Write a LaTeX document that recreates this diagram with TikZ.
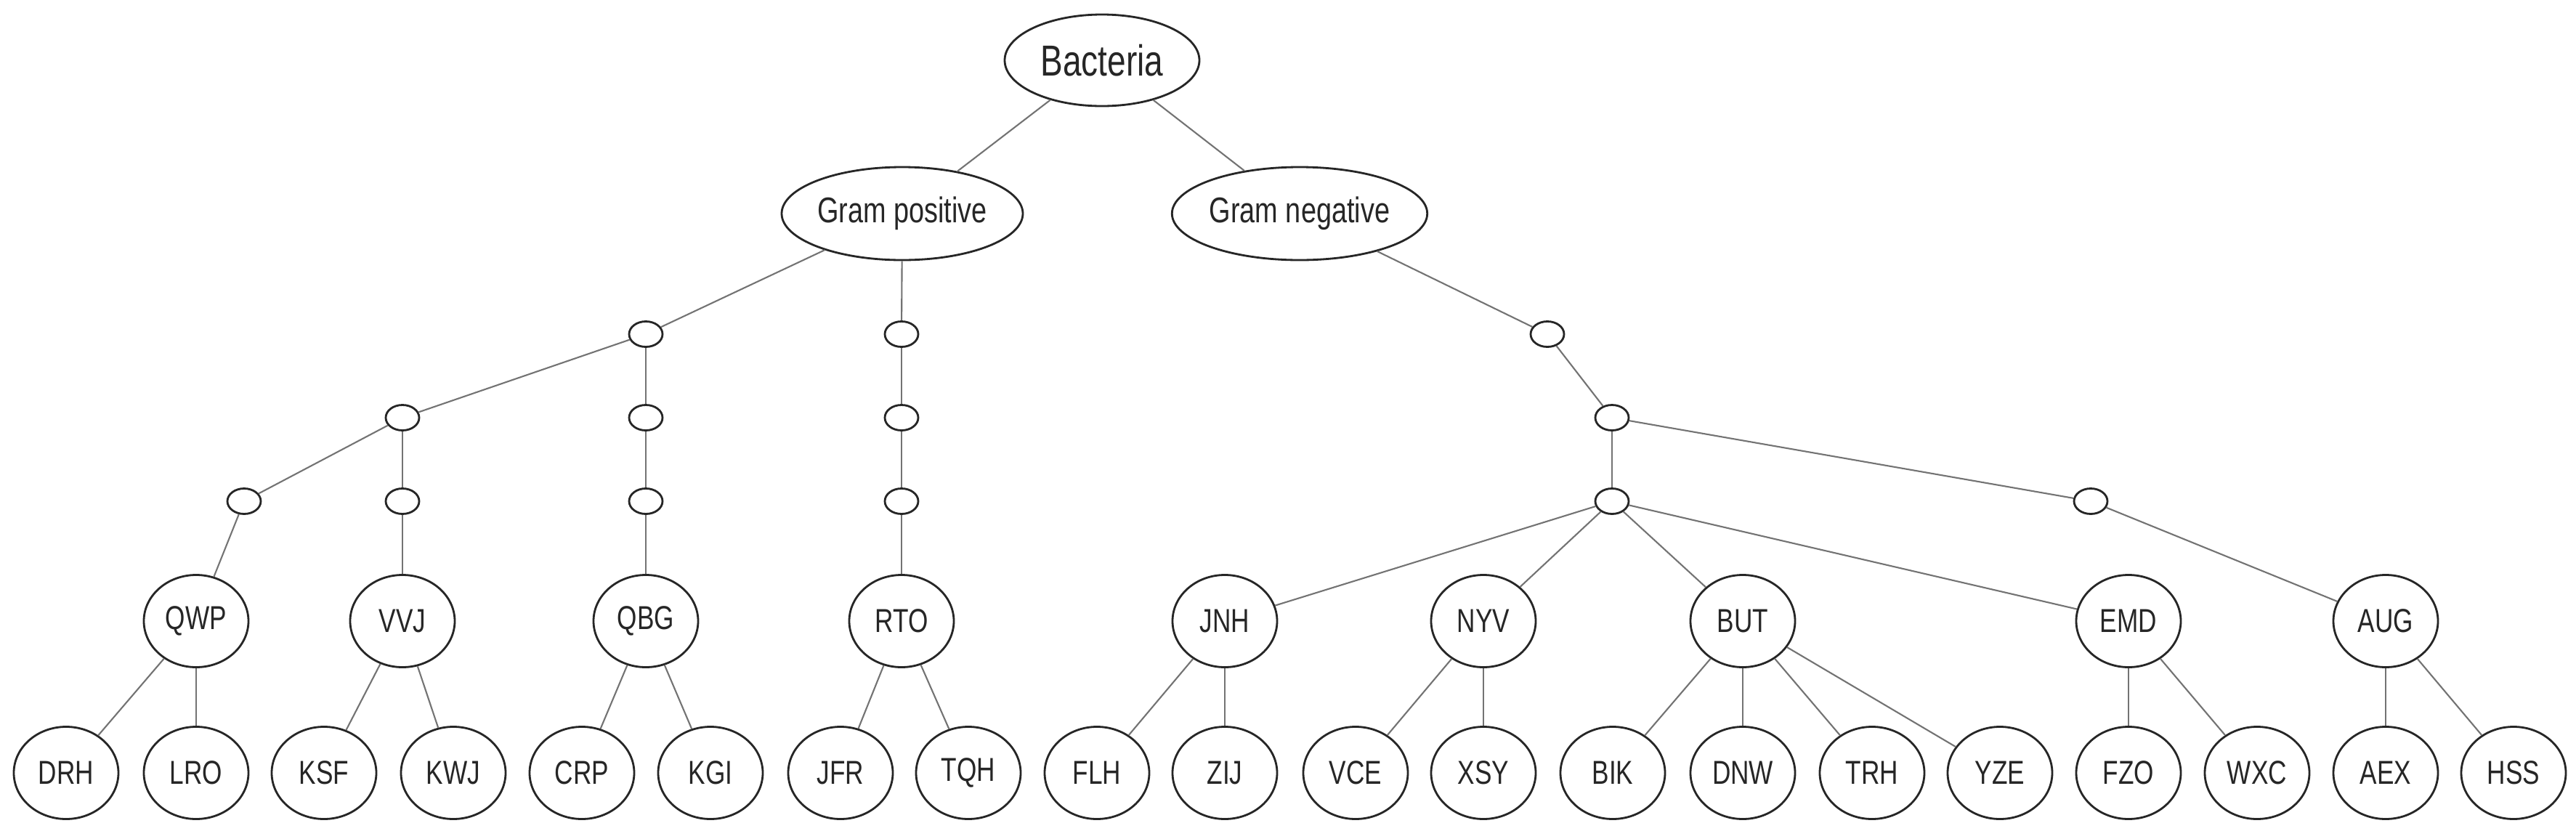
\documentclass[tikz,border=0pt]{standalone}
\usepackage{fontspec}
\setmainfont{Liberation Sans}[FakeStretch=0.77]
\usepackage{tikz}
\usetikzlibrary{graphs,shapes.geometric}
\tikzset{
  taxon/.style={ellipse, draw=black!85, line width=0.8pt, inner sep=0pt, minimum width=1.44cm, minimum height=1.27cm, font=\fontsize{13pt}{15pt}\selectfont, text=black!85},
  branch/.style={ellipse, draw=black!85, line width=0.8pt, inner sep=0pt, minimum width=0.46cm, minimum height=0.35cm},
  gram/.style={ellipse, draw=black!85, line width=0.8pt, inner sep=0pt, minimum height=1.28cm, font=\fontsize{14pt}{16pt}\selectfont, text=black!85},
  root/.style={ellipse, draw=black!85, line width=0.8pt, inner sep=0pt, minimum width=2.68cm, minimum height=1.26cm, font=\fontsize{17pt}{20pt}\selectfont, text=black!85}
}

\begin{document}
\begin{tikzpicture}
				\useasboundingbox (0,0) rectangle (35.46,-11.54);
				\graph [no placement, edges={draw=black!55, line width=0.6pt}] {
					bac/Bacteria[root,x=15.17,y=-0.83],
					gp/{Gram positive}[gram,minimum width=3.32cm,x=12.42,y=-2.94],
					gn/{Gram negative}[gram,minimum width=3.48cm,x=17.89,y=-2.94],
					bac -- gp, bac -- gn,
					% gram positive side
					p1/{}[branch,x=8.89,y=-4.60], p4/{}[branch,x=12.41,y=-4.60],
					p2/{}[branch,x=5.54,y=-5.75], p5/{}[branch,x=8.89,y=-5.75], p8/{}[branch,x=12.41,y=-5.75],
					p3/{}[branch,x=3.36,y=-6.90], p6/{}[branch,x=5.54,y=-6.90], p7/{}[branch,x=8.89,y=-6.90], p9/{}[branch,x=12.41,y=-6.90],
					gp -- p1, gp -- p4,
					p1 -- p2, p1 -- p5, p2 -- p3, p2 -- p6, p5 -- p7, p4 -- p8 -- p9,
					qwp/QWP[taxon,x=2.70,y=-8.55], vvj/VVJ[taxon,x=5.54,y=-8.55],
					qbg/QBG[taxon,x=8.89,y=-8.55], rto/RTO[taxon,x=12.41,y=-8.55],
					p3 -- qwp, p6 -- vvj, p7 -- qbg, p9 -- rto,
					drh/DRH[taxon,x=0.91,y=-10.64], lro/LRO[taxon,x=2.70,y=-10.64],
					ksf/KSF[taxon,x=4.46,y=-10.64], kwj/KWJ[taxon,x=6.24,y=-10.64],
					crp/CRP[taxon,x=8.01,y=-10.64], kgi/KGI[taxon,x=9.78,y=-10.64],
					jfr/JFR[taxon,x=11.57,y=-10.64], tqh/TQH[taxon,x=13.33,y=-10.64],
					qwp -- drh, qwp -- lro, vvj -- ksf, vvj -- kwj,
					qbg -- crp, qbg -- kgi, rto -- jfr, rto -- tqh,
					% gram negative side
					n1/{}[branch,x=21.30,y=-4.60], n2/{}[branch,x=22.19,y=-5.75],
					n3/{}[branch,x=22.19,y=-6.90], n4/{}[branch,x=28.78,y=-6.90],
					gn -- n1 -- n2 -- n3, n2 -- n4,
					jnh/JNH[taxon,x=16.86,y=-8.55], nyv/NYV[taxon,x=20.42,y=-8.55],
					but/BUT[taxon,x=23.99,y=-8.55], emd/EMD[taxon,x=29.30,y=-8.55],
					aug/AUG[taxon,x=32.84,y=-8.55],
					n3 -- jnh, n3 -- nyv, n3 -- but, n3 -- emd, n4 -- aug,
					flh/FLH[taxon,x=15.10,y=-10.64], zij/ZIJ[taxon,x=16.86,y=-10.64],
					vce/VCE[taxon,x=18.66,y=-10.64], xsy/XSY[taxon,x=20.42,y=-10.64],
					bik/BIK[taxon,x=22.20,y=-10.64], dnw/DNW[taxon,x=23.99,y=-10.64],
					trh/TRH[taxon,x=25.77,y=-10.64], yze/YZE[taxon,x=27.53,y=-10.64],
					fzo/FZO[taxon,x=29.30,y=-10.64], wxc/WXC[taxon,x=31.07,y=-10.64],
					aex/AEX[taxon,x=32.84,y=-10.64], hss/HSS[taxon,x=34.60,y=-10.64],
					jnh -- flh, jnh -- zij, nyv -- vce, nyv -- xsy,
					but -- bik, but -- dnw, but -- trh, but -- yze,
					emd -- fzo, emd -- wxc, aug -- aex, aug -- hss
				};
			\end{tikzpicture}
\end{document}
